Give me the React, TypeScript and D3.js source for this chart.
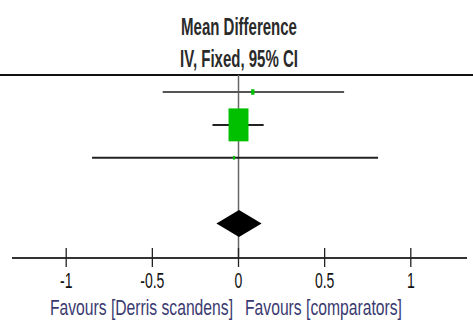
import React from 'react';
import * as d3 from 'd3';

// forest plot: mean difference, IV fixed, 95% CI
const studies = ['Study 1', 'Study 2', 'Study 3'];
const means = [0.083, 0.0, -0.026];
const lower = [-0.44, -0.151, -0.85];
const upper = [0.613, 0.146, 0.81];
const weights = [2.7, 96.1, 1.2];

const pooled = { mean: 0.003, lower: -0.128, upper: 0.134 };

const tickValues = [-1, -0.5, 0, 0.5, 1];
const titleLines = ['Mean Difference', 'IV, Fixed, 95% CI'];
const favourLeft = 'Favours [Derris scandens]';
const favourRight = 'Favours [comparators]';

const width = 473;
const height = 320;
const stretch = 1.65; // the picture is taller than wide

const Txt = ({ x, y, sy, anchor = 'middle', size, weight = 'normal', fill, children }) => (
  <text
    transform={`translate(${x},${y}) scale(1,${sy})`}
    textAnchor={anchor}
    fontFamily="'Liberation Sans', Arial, sans-serif"
    fontSize={size}
    fontWeight={weight}
    fill={fill}
  >
    {children}
  </text>
);

const App = () => {
  const xScale = d3.scaleLinear().domain([-1, 1]).range([66.2, 410.8]);
  const yScale = d3
    .scalePoint()
    .domain([...studies, 'gap', 'Total'])
    .range([92, 223.5]);
  const boxScale = d3.scaleSqrt().domain([0, 100]).range([0, 33.6]);

  const topY = 75;
  const axisY = 258;
  const x0 = xScale(0);
  const yT = yScale('Total');
  const dh = 13.5;

  const diamond = [
    [xScale(pooled.lower), yT],
    [xScale(pooled.mean), yT - dh],
    [xScale(pooled.upper), yT],
    [xScale(pooled.mean), yT + dh],
  ];

  return (
    <svg
      width={width}
      height={height}
      viewBox={`0 0 ${width} ${height}`}
      style={{ position: 'absolute', left: 0, top: 0, background: '#fff' }}
    >
      <Txt x={239} y={35} sy={stretch} size={15} weight="bold" fill="#2a2a2a">
        {titleLines[0]}
      </Txt>
      <Txt x={239} y={67.3} sy={stretch} size={15} weight="bold" fill="#2a2a2a">
        {titleLines[1]}
      </Txt>

      <line x1={0} x2={width} y1={topY} y2={topY} stroke="#111" strokeWidth={2} />
      <line x1={x0} x2={x0} y1={topY} y2={axisY} stroke="#666" strokeWidth={1.5} />

      {studies.map((s, i) => {
        const y = yScale(s);
        const h = boxScale(weights[i]);
        const w = h / stretch;
        return (
          <g key={s}>
            <line
              x1={xScale(lower[i])}
              x2={xScale(upper[i])}
              y1={y}
              y2={y}
              stroke={i === 0 ? '#555' : '#222'}
              strokeWidth={2}
            />
            <rect
              x={xScale(means[i]) - w / 2}
              y={y - h / 2}
              width={w}
              height={h}
              fill="#00c000"
            />
          </g>
        );
      })}

      <polygon points={diamond.map(p => p.join(',')).join(' ')} fill="#000" />

      <line x1={12} x2={467} y1={axisY} y2={axisY} stroke="#333" strokeWidth={2} />
      {tickValues.map(t => (
        <g key={t}>
          <line
            x1={xScale(t)}
            x2={xScale(t)}
            y1={axisY - 10}
            y2={axisY + 9}
            stroke="#222"
            strokeWidth={1.3}
          />
          <Txt x={xScale(t)} y={288} sy={1.6} size={14} fill="#111">
            {String(t)}
          </Txt>
        </g>
      ))}

      <Txt x={233} y={315.3} sy={1.42} anchor="end" size={15.7} fill="#3a3a70">
        {favourLeft}
      </Txt>
      <Txt x={245} y={315.3} sy={1.42} anchor="start" size={15.7} fill="#3a3a70">
        {favourRight}
      </Txt>
    </svg>
  );
};

export default App;
